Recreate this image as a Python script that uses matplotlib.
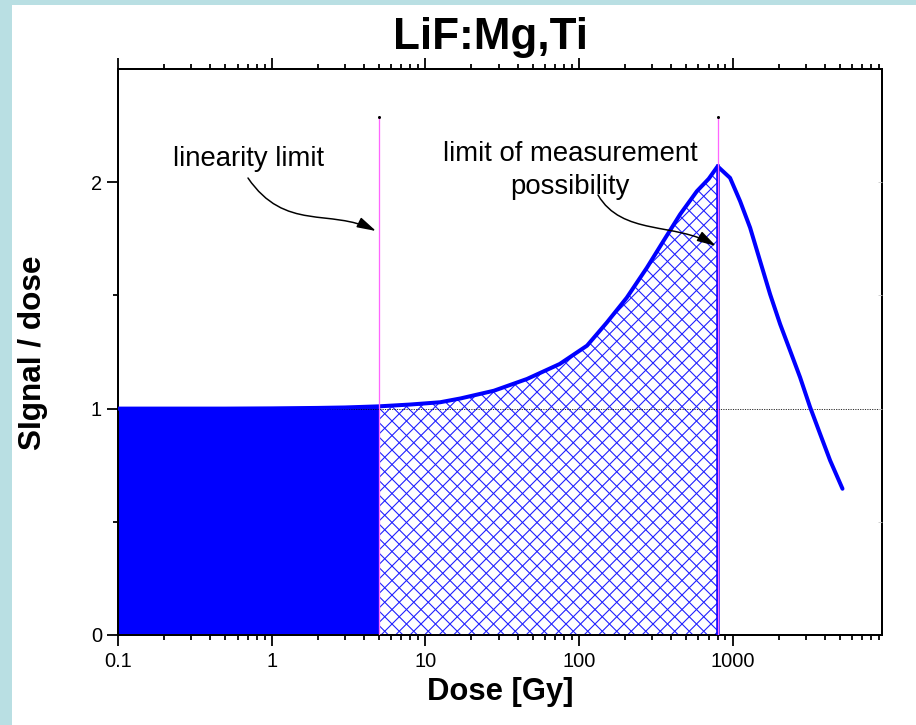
import numpy as np
import matplotlib
matplotlib.use("Agg")
import matplotlib.pyplot as plt
from matplotlib.patches import Rectangle, FancyArrowPatch
from matplotlib.path import Path
from matplotlib.collections import LineCollection
from matplotlib.transforms import IdentityTransform
from matplotlib.ticker import FixedLocator, FuncFormatter, LogLocator, NullFormatter

plt.rcParams['font.family'] = ['Liberation Sans', 'DejaVu Sans']

# data
dose = [0.1, 0.5, 1, 2, 3, 5, 8, 12.5, 17, 28, 46, 75, 113, 152, 205, 277,
        355, 456, 586, 700, 800, 964, 1121, 1302, 1512, 1757, 2042, 2371,
        2754, 3201, 3718, 4319, 5200]
signal = [1.0, 1.0, 1.001, 1.003, 1.005, 1.01, 1.018, 1.028, 1.045, 1.079,
          1.131, 1.197, 1.278, 1.38, 1.49, 1.622, 1.74, 1.858, 1.96, 2.015,
          2.07, 2.019, 1.916, 1.799, 1.652, 1.505, 1.373, 1.256, 1.138, 1.006,
          0.888, 0.771, 0.646]
lin_limit = 5
meas_limit = 800
x_ticks = [0.1, 1, 10, 100, 1000]
x_tick_labels = ["0.1", "1", "10", "100", "1000"]
y_ticks = [0, 1, 2]

dose = np.array(dose)
signal = np.array(signal)

fig = plt.figure(figsize=(916/72, 725/72), dpi=72)
fig.patch.set_facecolor('#b9dfe3')
fig.patches.append(Rectangle((12/916, 0), 1, 720/725, transform=fig.transFigure,
                             facecolor='white', edgecolor='none', zorder=-5))

ax = fig.add_axes([118/916, 90/725, 764/916, 566/725])
ax.set_facecolor('none')
ax.set_xscale('log')
ax.set_xlim(0.1, 9400)
ax.set_ylim(0, 2.5)

# solid part (linear region)
m1 = dose <= lin_limit
ax.fill_between(dose[m1], 0, signal[m1], color='#0000ff', lw=0, zorder=2)
# cross-hatched part (supralinear region)
m2 = (dose >= lin_limit) & (dose <= meas_limit)
poly = ax.fill_between(dose[m2], 0, signal[m2], facecolor='white', lw=0, zorder=2)

step = 14.5
segs = []
for c in np.arange(-900, 700, step):
    segs.append([(100, 100 + c), (900, 900 + c)])
    segs.append([(100, c + 800), (900, c)])
hatch = LineCollection(segs, transform=IdentityTransform(), colors='#1f1fff',
                       linewidths=1.1, zorder=2.5)
ax.add_collection(hatch, autolim=False)
hatch.set_clip_path(poly.get_paths()[0], ax.transData)

ax.plot([meas_limit, meas_limit], [0, signal[dose == meas_limit][0]],
        color='#0000ff', lw=3.5, zorder=3)

ax.axhline(1, color='black', ls=(0, (1.5, 1.5)), lw=0.8, zorder=4)

ax.plot(dose, signal, color='#0000ff', lw=4, solid_capstyle='round',
        solid_joinstyle='round', zorder=5)

for xv in (lin_limit, meas_limit):
    ax.plot([xv, xv], [0, 2.29], color='#ff66ff', lw=1.3, zorder=6)
    ax.plot([xv], [2.29], marker='o', ms=2, color='black', zorder=6)

ax.text(249, 725 - 166, "linearity limit", transform=None, fontsize=27.5,
        ha='center', va='baseline')
ax.text(570, 725 - 161, "limit of measurement", transform=None, fontsize=27.5,
        ha='center', va='baseline')
ax.text(570, 725 - 194, "possibility", transform=None, fontsize=27.5,
        ha='center', va='baseline')


def px(x, y):
    return ((x - 118) / 764, (635 - y) / 566)


arrows = [
    [px(248, 178), px(285, 232), px(330, 208), px(376, 231)],
    [px(598, 195), px(622, 236), px(675, 222), px(716, 246)],
]
codes = [Path.MOVETO, Path.CURVE4, Path.CURVE4, Path.CURVE4]
for verts in arrows:
    ar = FancyArrowPatch(path=Path(verts, codes), transform=ax.transAxes,
                         arrowstyle='-|>,head_length=16,head_width=4.5',
                         mutation_scale=1, color='black', lw=1.5, zorder=7)
    ax.add_patch(ar)

# axes styling
for s in ax.spines.values():
    s.set_linewidth(2)
ax.xaxis.set_major_locator(FixedLocator(x_ticks))
ax.xaxis.set_major_formatter(FuncFormatter(lambda v, p: x_tick_labels[x_ticks.index(v)] if v in x_ticks else ""))
ax.xaxis.set_minor_locator(LogLocator(base=10, subs=np.arange(2, 10)))
ax.xaxis.set_minor_formatter(NullFormatter())
ax.yaxis.set_major_locator(FixedLocator(y_ticks))
ax.yaxis.set_minor_locator(FixedLocator([0.5, 1.5]))
ax.tick_params(axis='x', which='both', top=True, bottom=True, direction='out',
               labelsize=20, width=1.8, pad=6)
ax.tick_params(axis='x', which='major', length=11)
ax.tick_params(axis='x', which='minor', length=5)
ax.tick_params(axis='y', which='both', direction='out', labelsize=20, width=1.8, pad=5)
ax.tick_params(axis='y', which='major', length=11)
ax.tick_params(axis='y', which='minor', length=5)

ax2 = ax.twinx()
ax2.set_ylim(0, 2.5)
ax2.set_yticks([0.5, 1, 1.5, 2])
ax2.tick_params(direction='in', length=4, color='#c8c8c8', labelright=False)
for s in ax2.spines.values():
    s.set_visible(False)

fig.text(491/916, 1 - 49/725, "LiF:Mg,Ti", fontsize=44, fontweight='bold',
         ha='center', va='baseline')
fig.text(500/916, 1 - 700/725, "Dose [Gy]", fontsize=31, fontweight='bold',
         ha='center', va='baseline')
fig.text(33/916, 1 - 353/725, "SIgnal / dose", fontsize=31.5, fontweight='bold',
         ha='center', va='center', rotation=90)

fig.savefig("out.png", dpi=72)
